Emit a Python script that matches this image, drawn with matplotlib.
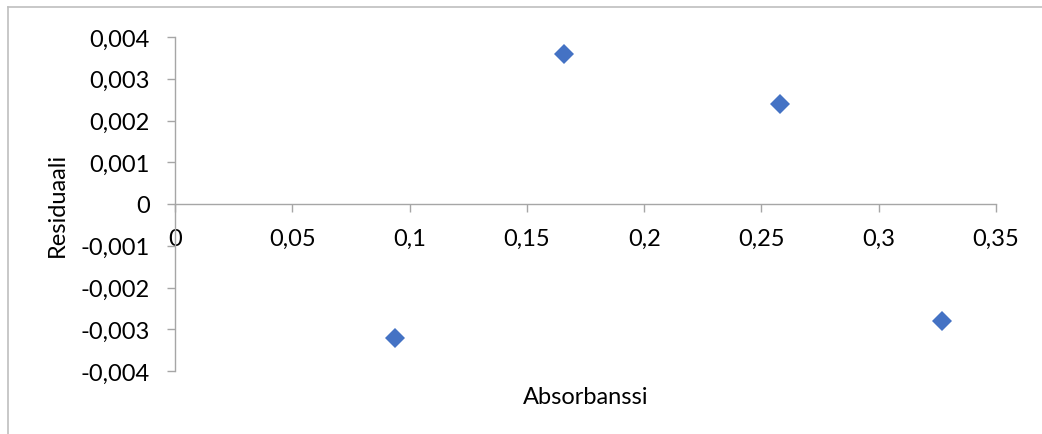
import matplotlib
matplotlib.use('Agg')
from matplotlib import pyplot as plt
from matplotlib.lines import Line2D
from matplotlib.ticker import MultipleLocator, FuncFormatter

plt.rcParams['font.family'] = ['Lato', 'DejaVu Sans']

absorbance = [0.094, 0.166, 0.258, 0.327]
residual = [-0.0032, 0.0036, 0.0024, -0.0028]
x_label = 'Absorbanssi'
y_label = 'Residuaali'

axis_grey = '#a6a6a6'
point_blue = '#4472C4'
fsize = 17


def comma_fmt(v, pos):
    if abs(v) < 1e-12:
        return '0'
    return f'{v:g}'.replace('.', ',')


fig = plt.figure(figsize=(10.42, 4.35), dpi=100)
ax = fig.add_axes([175 / 1042, 1 - 372 / 435, 821 / 1042, 334 / 435])

ax.plot(absorbance, residual, linestyle='none', marker='D', markersize=10,
        color=point_blue, markeredgewidth=0)

ax.set_xlim(0, 0.35)
ax.set_ylim(-0.004, 0.004)
ax.xaxis.set_major_locator(MultipleLocator(0.05))
ax.yaxis.set_major_locator(MultipleLocator(0.001))
ax.xaxis.set_major_formatter(FuncFormatter(comma_fmt))
ax.yaxis.set_major_formatter(FuncFormatter(comma_fmt))

for side in ['top', 'right']:
    ax.spines[side].set_visible(False)
ax.spines['bottom'].set_position(('data', 0))
for side in ['left', 'bottom']:
    ax.spines[side].set_color(axis_grey)
    ax.spines[side].set_linewidth(1.0)

ax.tick_params(axis='both', direction='out', length=6, width=1.0,
               color=axis_grey, labelsize=fsize, labelcolor='black')
ax.tick_params(axis='y', pad=12)
ax.tick_params(axis='x', pad=11)

ax.set_xlabel(x_label, fontsize=fsize)
ax.set_ylabel(y_label, fontsize=fsize)
ax.xaxis.set_label_coords(0.5, -0.045)
ax.yaxis.set_label_coords(-0.130, 0.5)

# chart area border (only top and left visible in the crop)
fig.add_artist(Line2D([8 / 1042, 1.0], [1 - 8 / 435, 1 - 8 / 435],
                      transform=fig.transFigure, color='#bfbfbf', linewidth=1.2))
fig.add_artist(Line2D([8 / 1042, 8 / 1042], [0.0, 1 - 8 / 435],
                      transform=fig.transFigure, color='#bfbfbf', linewidth=1.2))

fig.savefig('out.png', dpi=100)
